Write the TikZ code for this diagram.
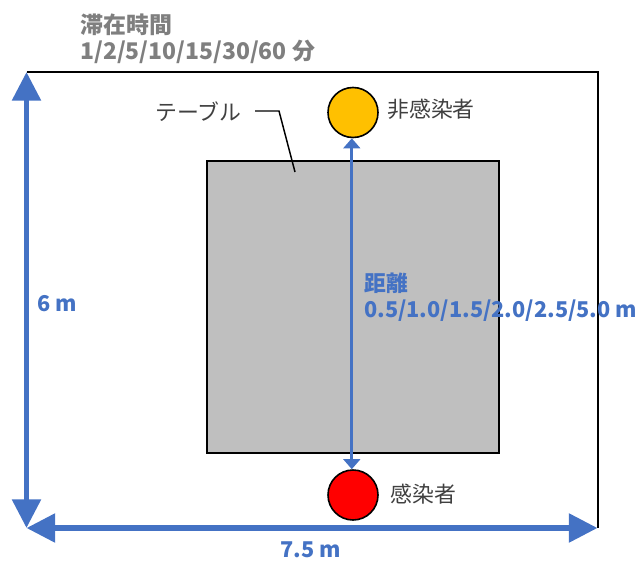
\documentclass[tikz,border=0pt]{standalone}
\usepackage{fontspec}
\setmainfont{Noto Sans CJK JP}
\usetikzlibrary{arrows.meta}
\definecolor{ublue}{HTML}{4472C4}
\definecolor{ugray}{HTML}{7F7F7F}
\definecolor{utext}{HTML}{404040}
\definecolor{utable}{HTML}{BFBFBF}
\definecolor{uyellow}{HTML}{FFC000}
\definecolor{ured}{HTML}{FF0000}
\tikzset{
  bigarrow/.style={draw=ublue, line width=4.2pt, {Triangle[length=21.5pt,width=21pt]}-{Triangle[length=21.5pt,width=21pt]}},
  distarrow/.style={draw=ublue, line width=2.2pt, {Triangle[length=7.5pt,width=12.5pt]}-{Triangle[length=7.5pt,width=12.5pt]}},
  person/.style={circle, draw=black, line width=1.2pt, minimum size=37.5pt, inner sep=0pt},
  plainlabel/.style={text=utext, font=\fontsize{16.4}{19.5}\selectfont, inner sep=0pt, anchor=west},
  bluelabel/.style={text=ublue, font=\bfseries\fontsize{16.3}{19.5}\selectfont, inner sep=0pt, align=left},
  graylabel/.style={text=ugray, font=\bfseries\fontsize{17.2}{19.5}\selectfont, inner sep=0pt, align=left}
}
\begin{document}
\begin{tikzpicture}[x=0.75pt, y=-0.75pt]
\useasboundingbox (0,0) rectangle (638,563);
% room corners
\coordinate (TL) at (26.5,72);
\coordinate (TR) at (597.5,72);
\coordinate (BR) at (597.5,528);
\coordinate (BL) at (26.5,528);
\draw[line width=1.5pt, black] (TL) -- (TR) -- (BR);
% table
\node[draw=black, line width=1.1pt, fill=utable, minimum width=219pt, minimum height=219pt, inner sep=0pt] (table) at (353,307) {};
% people
\node[person, fill=uyellow] (nonInf) at (353,112.5) {};
\node[person, fill=ured] (inf) at (353,495) {};
% distance arrow
\draw[distarrow] ([xshift=-0.9pt]inf.north) -- ([xshift=-0.9pt]nonInf.south);
% dimension arrows
\draw[bigarrow] (BL) -- (TL);
\draw[bigarrow] (BL) -- (BR);
% table leader
\node[plainlabel] (tlabel) at (155,112) {テーブル};
\coordinate (l1) at (255,111);
\coordinate (l2) at (279,111);
\coordinate (l3) at (295,172);
\draw[line width=1.1pt, black] (l1) -- (l2) -- (l3);
% labels
\node[plainlabel] (nonInfLabel) at (387,109) {非感染者};
\node[plainlabel] (infLabel) at (390,494) {感染者};
\node[bluelabel, anchor=west] (distLabel) at (364,297) {距離\\0.5/1.0/1.5/2.0/2.5/5.0 m};
\node[bluelabel, anchor=west] (hLabel) at (37,304) {6 m};
\node[bluelabel] (wLabel) at (311,550) {7.5 m};
\node[graylabel, anchor=west] (timeLabel) at (80,39) {滞在時間\\1/2/5/10/15/30/60 分};
\end{tikzpicture}
\end{document}
